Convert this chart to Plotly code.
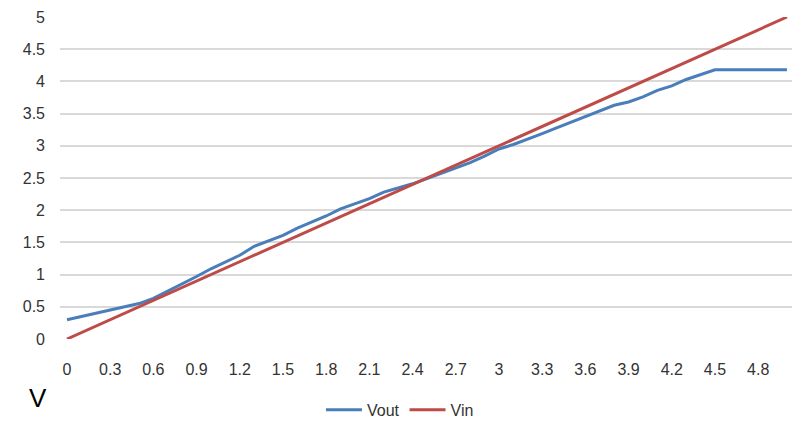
import plotly.graph_objects as go

# Input voltage sweep (V), 0.1 V steps
vin = [round(i * 0.1, 1) for i in range(51)]

# Measured output voltage at each input step (V)
vout = [0.30, 0.35, 0.40, 0.44, 0.49, 0.55, 0.63, 0.74, 0.86, 0.97,
        1.09, 1.19, 1.30, 1.44, 1.53, 1.61, 1.72, 1.81, 1.91, 2.02,
        2.10, 2.18, 2.28, 2.34, 2.41, 2.49, 2.57, 2.65, 2.74, 2.84,
        2.95, 3.02, 3.10, 3.19, 3.28, 3.37, 3.46, 3.55, 3.63, 3.68,
        3.76, 3.86, 3.93, 4.03, 4.10, 4.18, 4.18, 4.18, 4.18, 4.18,
        4.18]

# Category labels shown on the x axis (every third step)
x_ticks = [round(i * 0.3, 1) for i in range(17)]
x_tick_text = ["0", "0.3", "0.6", "0.9", "1.2", "1.5", "1.8", "2.1", "2.4",
               "2.7", "3", "3.3", "3.6", "3.9", "4.2", "4.5", "4.8"]
y_ticks = [0, 0.5, 1, 1.5, 2, 2.5, 3, 3.5, 4, 4.5, 5]
y_tick_text = ["0", "0.5", "1", "1.5", "2", "2.5", "3", "3.5", "4", "4.5", "5"]

FONT = "Liberation Sans, Arial"
TEXT = "#333333"

fig = go.Figure()
fig.add_trace(go.Scatter(x=vin, y=vout, mode="lines", name="Vout",
                         line=dict(color="#4A7EBB", width=3)))
fig.add_trace(go.Scatter(x=vin, y=vin, mode="lines", name="Vin",
                         line=dict(color="#BE4B48", width=3)))

fig.update_layout(
    width=792, height=427,
    margin=dict(l=60, r=0, t=17, b=88),
    paper_bgcolor="white", plot_bgcolor="white",
    font=dict(family=FONT, size=16, color=TEXT),
    showlegend=True,
    legend=dict(orientation="h", x=0.505, xref="container", xanchor="center",
                y=0.04, yref="container", yanchor="middle",
                font=dict(size=16, color=TEXT),
                itemwidth=36, tracegroupgap=0),
    xaxis=dict(range=[-0.0486, 5.035], tickvals=x_ticks, ticktext=x_tick_text,
               showgrid=False, zeroline=False, showline=False,
               ticks="", ticklabelstandoff=19,
               tickfont=dict(size=16, color=TEXT)),
    yaxis=dict(range=[0, 5], tickvals=y_ticks, ticktext=y_tick_text,
               showgrid=True, gridcolor="#D9D9D9", gridwidth=1.5,
               zeroline=False, showline=False, ticks="",
               ticklabelstandoff=14, tickfont=dict(size=16, color=TEXT)),
    annotations=[dict(text="V", x=(38 - 60) / 732, y=(427 - 88 - 398) / 322,
                      xref="paper", yref="paper", xanchor="center",
                      yanchor="middle", showarrow=False,
                      font=dict(size=26, color="black",
                                family="Liberation Sans, Arial"))],
)

fig.write_html("out.html")
